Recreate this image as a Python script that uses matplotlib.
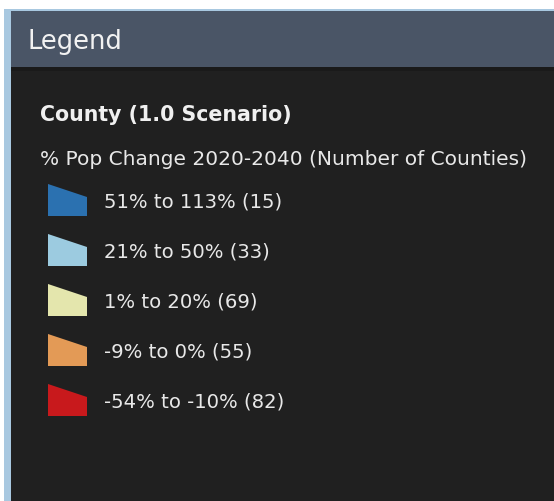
import matplotlib.pyplot as plt
from matplotlib.patches import Polygon, Rectangle

# legend classes
class_labels = ['51% to 113% (15)', '21% to 50% (33)', '1% to 20% (69)',
                '-9% to 0% (55)', '-54% to -10% (82)']
class_colors = ['#2b71b0', '#9ccbe0', '#e4e6ad', '#e39a56', '#c8191c']

header = 'Legend'
layer_title = 'County (1.0 Scenario)'
field_title = '% Pop Change 2020-2040 (Number of Counties)'

plt.rcParams['font.family'] = ['DejaVu Sans']

fig = plt.figure(figsize=(5.54, 5.02), dpi=100)
fig.patch.set_facecolor('white')
ax = fig.add_axes([0, 0, 1, 1])
ax.set_xlim(0, 554)
ax.set_ylim(502, 0)
ax.axis('off')

# panel
ax.add_patch(Rectangle((4, 10), 560, 500, color='#a8c8e0', lw=0))
ax.add_patch(Rectangle((11, 12), 560, 500, color='#202020', lw=0))
ax.add_patch(Rectangle((11, 12), 560, 58, color='#4a5566', lw=0))
ax.add_patch(Rectangle((11, 68), 560, 4, color='#1a1a1a', lw=0))

ax.text(28, 42, header, color='#f2f2f2', fontsize=18.5, va='center', ha='left')
ax.text(40, 115, layer_title, color='#f0f0f0', fontsize=14.8, fontweight='bold',
        va='center', ha='left')
ax.text(40, 160, field_title, color='#e8e8e8', fontsize=14.5, va='center', ha='left')

for i, (lab, col) in enumerate(zip(class_labels, class_colors)):
    yc = 202 + i * 50
    pts = [(48, yc - 17), (87, yc - 4), (87, yc + 15), (48, yc + 15)]
    ax.add_patch(Polygon(pts, closed=True, color=col, lw=0))
    ax.text(104, yc, lab, color='#e8e8e8', fontsize=14.1, va='center', ha='left')

fig.savefig('out.png', dpi=100, facecolor=fig.get_facecolor())
